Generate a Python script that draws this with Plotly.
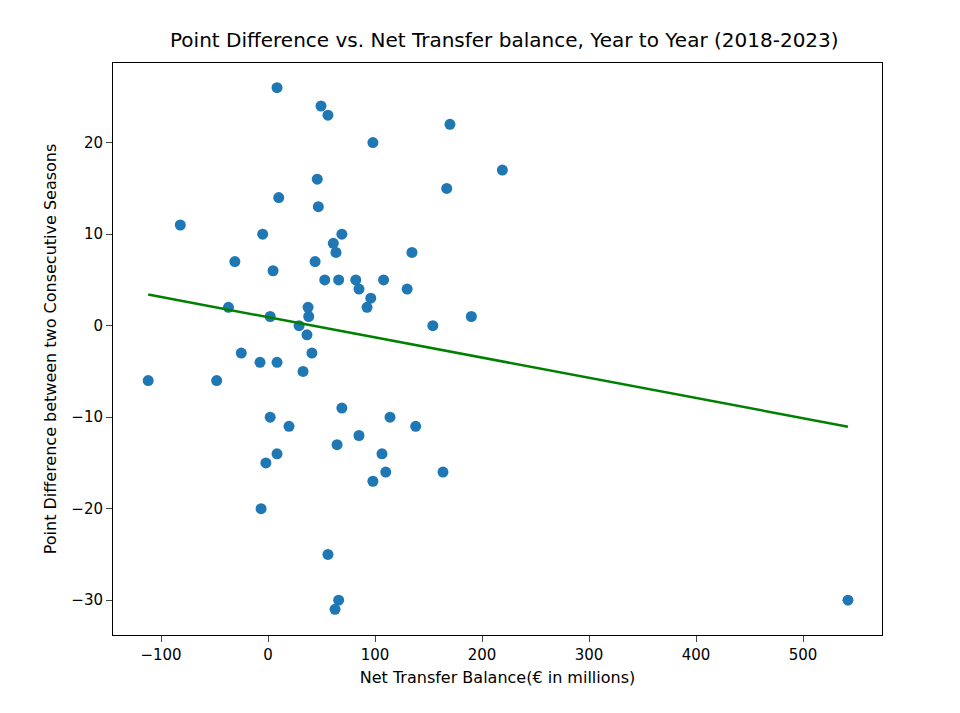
import numpy as np
import plotly.graph_objects as go

transfer_balance = [8.4,49.5,56,98,170,219,167,10,46,47,-82,-5,69,61,63.5,134.5,-31,44,4.7,53,66,82,108,85,130,96,92.5,37.4,-37,38,2,190,29,154,36.4,41,-25,-7.5,8.4,32.7,-112,-48,69,2,114,138,19.6,85,64.5,106.5,8.4,110,163.5,98,-2,-6.5,56,66,62.6,542]
point_diff = [26,24,23,20,22,17,15,14,16,13,11,10,10,9,8,8,7,7,6,5,5,5,5,4,4,3,2,2,2,1,1,1,0,0,-1,-3,-3,-4,-4,-5,-6,-6,-9,-10,-10,-11,-11,-12,-13,-14,-14,-16,-16,-17,-15,-20,-25,-30,-31,-30]

x = np.array(transfer_balance); y = np.array(point_diff)
m, b = np.polyfit(x, y, 1)

fig = go.Figure()
fig.add_trace(go.Scatter(x=x, y=y, mode="markers",
    marker=dict(color="#1f77b4", size=11)))
fig.add_trace(go.Scatter(x=x, y=m*x+b, mode="lines", line=dict(color="green", width=2.5)))

ax = dict(showline=True, linecolor="black", mirror=True, ticks="outside", ticklen=6,
          showgrid=False, zeroline=False, tickfont=dict(size=15, color="black"))
fig.update_layout(
    width=960, height=713, showlegend=False,
    paper_bgcolor="white", plot_bgcolor="white",
    font=dict(family="DejaVu Sans", color="black"),
    margin=dict(l=105, r=86, t=55, b=86),
    title=dict(text="Point Difference vs. Net Transfer balance, Year to Year (2018-2023)",
               x=0.517, xanchor="center", y=0.955, yanchor="middle", font=dict(size=20)),
    xaxis=dict(ax, range=[-144.9, 573.8], tickvals=[-100,0,100,200,300,400,500],
               ticktext=["\u2212100","0","100","200","300","400","500"],
               title=dict(text="Net Transfer Balance(€ in millions)", font=dict(size=16), standoff=8)),
    yaxis=dict(ax, range=[-33.8, 28.7], tickvals=[-30,-20,-10,0,10,20],
               ticktext=["\u221230","\u221220","\u221210","0","10","20"],
               title=dict(text="Point Difference between two Consecutive Seasons", font=dict(size=16), standoff=10)),
)
fig.write_html("out.html")
